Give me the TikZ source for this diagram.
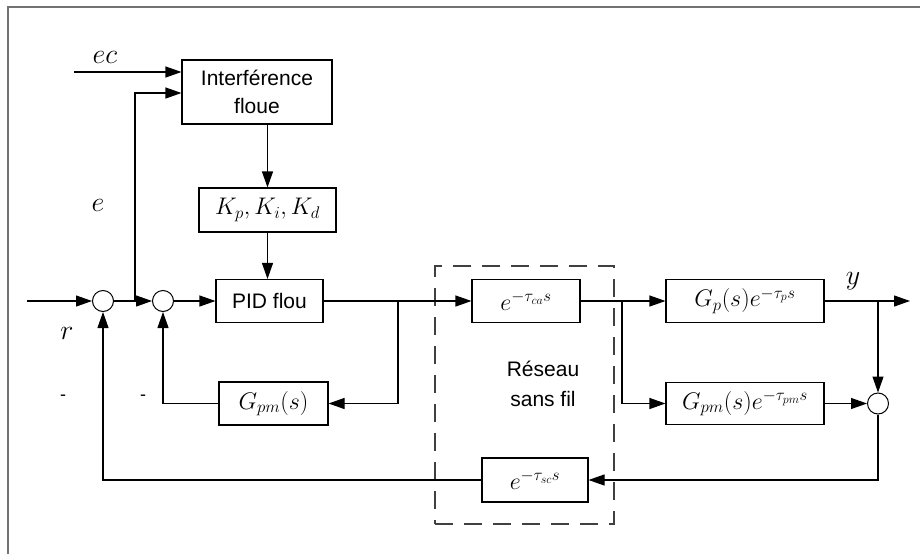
\RequirePackage{fix-cm}
\documentclass[tikz,border=0pt]{standalone}
\usepackage{fontspec}
\setmainfont{Liberation Sans}
\usetikzlibrary{arrows.meta,calc}
\newcommand{\bmath}[1]{{\fontsize{24}{28}\selectfont$#1$}}
\tikzset{
  blk/.style={draw, line width=1.1pt, inner sep=0pt, font=\fontsize{21}{28}\selectfont, align=center},
  sumc/.style={draw, circle, line width=1pt, minimum size=21pt, inner sep=0pt},
  conn/.style={line width=1.1pt, -{Triangle[length=16pt,width=11pt]}},
  lbl/.style={font=\fontsize{28}{32}\selectfont, inner sep=0pt},
  minus/.style={font=\fontsize{18}{22}\selectfont, inner sep=0pt},
  netbox/.style={draw=black!75, line width=1.1pt, dash pattern=on 18pt off 11pt, inner sep=0pt},
  frame/.style={draw=black!55, line width=2pt},
}
\begin{document}
\begin{tikzpicture}[x=1pt,y=-1pt]
\useasboundingbox (0,0) rectangle (920,554);
\draw[frame] (920,6.5) -- (7.5,6.5) -- (7.5,554);

% dashed network region
\node[netbox, minimum width=179pt, minimum height=258pt] (net) at (524.5,395) {};
\node[align=center, inner sep=0pt, font=\fontsize{21}{30}\selectfont] (netlbl) at (543,384) {Réseau\\sans fil};

% blocks
\node[blk, minimum width=150pt, minimum height=64pt] (inf) at (257,92) {Interférence\\floue};
\node[blk, minimum width=137pt, minimum height=44pt] (K) at (267.5,210) {\bmath{K_p,K_i,K_d}};
\node[blk, minimum width=107pt, minimum height=43pt] (pid) at (269.5,301) {PID flou};
\node[blk, minimum width=109pt, minimum height=43pt] (gpm1) at (273.5,403.5) {\bmath{G_{pm}(s)}};
\node[blk, minimum width=108pt, minimum height=43pt] (eca) at (526,301) {\bmath{e^{-\tau_{ca}s}}};
\node[blk, minimum width=106pt, minimum height=44pt] (esc) at (535,480) {\bmath{e^{-\tau_{sc}s}}};
\node[blk, minimum width=158pt, minimum height=43pt] (Gp) at (745,301) {\bmath{G_p(s)e^{-\tau_p s}}};
\node[blk, minimum width=158pt, minimum height=42pt] (gpme) at (745,403.5) {\bmath{G_{pm}(s)e^{-\tau_{pm} s}}};

% summing junctions
\node[sumc] (c1) at (103,301) {};
\node[sumc] (c2) at (163,301) {};
\node[sumc] (c3) at (878,403.5) {};

% free ends and branch points
\coordinate (ecin) at (74,72);
\coordinate (rin) at (27,301);
\coordinate (j1) at (135,301);
\coordinate (j2) at (398,301);
\coordinate (j3) at (622,301);
\coordinate (j4) at (878,301);
\coordinate (yout) at (910,301);

% connectors
\draw[conn] (ecin) -- (ecin -| inf.west);
\draw[conn] (j1) |- ([yshift=-1pt]inf.west);
\draw[conn] (K.north |- inf.south) -- (K.north);
\draw[conn] (K.south) -- (K.south |- pid.north);
\draw[conn] (rin) -- (c1);
\draw[conn] (c1) -- (c2);
\draw[conn] (c2) -- (pid);
\draw[conn] (pid) -- (eca);
\draw[conn] (j2) |- (gpm1.east);
\draw[conn] (gpm1.west) -| (c2.south);
\draw[conn] (eca) -- (Gp);
\draw[conn] (j3) |- (gpme.west);
\draw[conn] (Gp) -- (yout);
\draw[conn] (j4) -- (c3);
\draw[conn] (gpme) -- (c3);
\draw[conn] (c3.south) |- (esc.east);
\draw[conn] (esc.west) -| (c1.south);

% labels
\node[lbl] (lec) at (105,57) {$ec$};
\node[lbl] (le) at (98,205) {$e$};
\node[lbl] (lr) at (67,333) {$r$};
\node[lbl] (ly) at (853,281) {$y$};
\node[minus] (m1) at (63,398) {-};
\node[minus] (m2) at (143,398) {-};
\end{tikzpicture}
\end{document}
